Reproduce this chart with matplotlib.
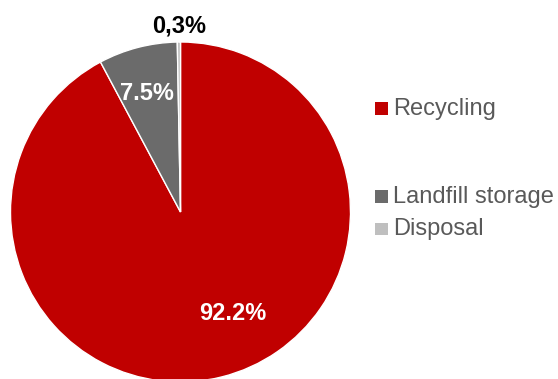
import matplotlib
matplotlib.use("Agg")
import matplotlib.pyplot as plt
from matplotlib.patches import Rectangle

plt.rcParams['font.family'] = ['Liberation Sans', 'DejaVu Sans']

# shares of waste treatment, percent
categories = ['Recycling', 'Landfill storage', 'Disposal']
shares = [92.2, 7.5, 0.3]
share_labels = ['92.2%', '7.5%', '0,3%']
colors = ['#C00000', '#6B6B6B', '#BFBFBF']

W, H = 558, 379
fig = plt.figure(figsize=(W / 100, H / 100), dpi=100)

# square axes holding the pie, placed in pixel units
ax = fig.add_axes([10.5 / W, (H - 382) / H, 340 / W, 340 / H])
ax.pie(shares, colors=colors, startangle=90, counterclock=False,
       wedgeprops=dict(edgecolor='white', linewidth=1.0))
ax.set_xlim(-1, 1)
ax.set_ylim(-1, 1)
ax.axis('off')

# value labels (data coords of the unit pie)
label_pos = [(0.309, -0.635), (-0.20, 0.659), (-0.01, 1.053)]
label_colors = ['white', 'white', 'black']
for txt, (x, y), c in zip(share_labels, label_pos, label_colors):
    ax.text(x, y, txt, ha='center', va='baseline', fontsize=17,
            fontweight='bold', color=c, clip_on=False)

# legend, drawn by hand so the gap after the first entry is kept
legend_rows = [114.5, 202.5, 235.0]  # text baselines, px from top
for name, c, base in zip(categories, colors, legend_rows):
    fig.patches.append(Rectangle((375 / W, 1 - base / H), 12.5 / W, 12.5 / H,
                                 transform=fig.transFigure, facecolor=c,
                                 edgecolor='none'))
    fig.text(393 / W, 1 - base / H, name, ha='left', va='baseline',
             fontsize=17, color='#595959')

fig.savefig('out.png', dpi=100, facecolor='white')
